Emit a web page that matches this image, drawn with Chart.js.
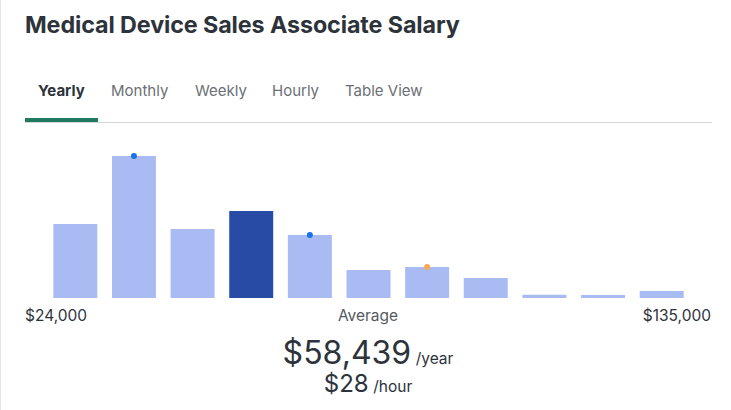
<!DOCTYPE html>
<html>
<head>
<meta charset="utf-8">
<script src="https://cdn.jsdelivr.net/npm/chart.js@4"></script>
<style>
  html, body { margin: 0; padding: 0; background: #fff; }
  body { width: 731px; height: 410px; position: relative; overflow: hidden; font-family: Inter, "Noto Sans", sans-serif; color: #2d333a; }
  .edge { position: absolute; left: 0; top: 0; width: 1px; height: 410px; background: #e6e6e6; }
  h1 { position: absolute; left: 25px; top: 10px; margin: 0; font-size: 23.3px; font-weight: 700; line-height: 30px; letter-spacing: -0.1px; }
  .tabs { position: absolute; left: 25px; top: 80px; width: 687px; height: 42px; border-bottom: 1px solid #d6d6d6; }
  .tab { position: absolute; top: 0; font-size: 15px; line-height: 22px; color: #6b6f76; }
  .tab.active { color: #2d333a; font-weight: 700; }
  .underline { position: absolute; left: 0; top: 38px; width: 73px; height: 4px; background: #1f7a5f; }
  #wrap { position: absolute; left: 0; top: 140px; width: 731px; height: 160px; }
  .axis { position: absolute; top: 305px; font-size: 15.5px; line-height: 22px; color: #2d333a; }
  .avg { position: absolute; top: 334px; left: 0; width: 736px; text-align: center; color: #2d333a; }
  .avg .big { font-size: 32px; }
  .avg .mid { font-size: 24px; }
  .avg .unit { font-size: 15.5px; }
</style>
</head>
<body>
<div class="edge"></div>
<h1>Medical Device Sales Associate Salary</h1>
<div class="tabs" id="tabs"><div class="underline"></div></div>
<div id="wrap"><canvas id="salaryChart"></canvas></div>
<div class="axis" id="minLabel" style="left:25px"></div>
<div class="axis" id="midLabel" style="left:0;width:736px;text-align:center;color:#55595f"></div>
<div class="axis" id="maxLabel" style="right:20px"></div>
<div class="avg" id="avgBox"></div>
<script>
// salary distribution, 11 bins between min and max
const bins = ['b1', 'b2', 'b3', 'b4', 'b5', 'b6', 'b7', 'b8', 'b9', 'b10', 'b11'];
const counts = [74, 142, 69, 87, 63, 28, 31, 20, 3.3, 3, 7];
const markerValues = [null, 142, null, null, 63, null, 31, null, null, null, null];
const markerColors = ['#1a73e8', '#1a73e8', '#1a73e8', '#1a73e8', '#1a73e8', '#1a73e8', '#f9a857', '#1a73e8', '#1a73e8', '#1a73e8', '#1a73e8'];
const averageBin = 3;
const tabs = ['Yearly', 'Monthly', 'Weekly', 'Hourly', 'Table View'];
const tabX = [13, 86, 170, 247, 320];
const axisLabels = ['$24,000', 'Average', '$135,000'];
const averageYear = '$58,439';
const averageHour = '$28';

const tabsEl = document.getElementById('tabs');
tabs.forEach((t, i) => {
    const d = document.createElement('div');
    d.className = 'tab' + (i === 0 ? ' active' : '');
    d.style.left = tabX[i] + 'px';
    d.textContent = t;
    tabsEl.appendChild(d);
});
document.getElementById('minLabel').textContent = axisLabels[0];
document.getElementById('midLabel').textContent = axisLabels[1];
document.getElementById('maxLabel').textContent = axisLabels[2];
document.getElementById('avgBox').innerHTML =
    `<div style="line-height:38px"><span class="big">${averageYear}</span> <span class="unit">/year</span></div>` +
    `<div style="line-height:28px;margin-top:-8px"><span class="mid">${averageHour}</span> <span class="unit">/hour</span></div>`;

const barColors = counts.map((v, i) => i === averageBin ? '#284ba5' : '#a9bbf3');

new Chart(document.getElementById('salaryChart'), {
    type: 'bar',
    data: {
        labels: bins,
        datasets: [
            {
                type: 'line',
                data: markerValues,
                showLine: false,
                pointRadius: 3,
                pointBackgroundColor: markerColors,
                pointBorderWidth: 0,
                order: 1
            },
            {
                data: counts,
                backgroundColor: barColors,
                categoryPercentage: 1,
                barPercentage: 0.75,
                order: 2
            }
        ]
    },
    options: {
        responsive: true,
        maintainAspectRatio: false,
        animation: false,
        layout: { autoPadding: false, padding: { left: 46, right: 40, top: 8, bottom: 2 } },
        plugins: { legend: { display: false }, tooltip: { enabled: false } },
        scales: {
            x: { display: false },
            y: { display: false, min: 0, max: 150 }
        }
    }
});
</script>
</body>
</html>
